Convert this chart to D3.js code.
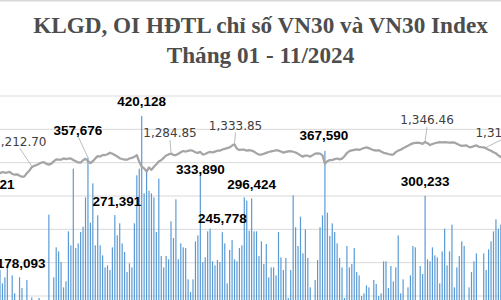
<!DOCTYPE html>
<html>
<head>
<meta charset="utf-8">
<script src="https://cdn.jsdelivr.net/npm/d3@7"></script>
<style>
  html, body { margin: 0; padding: 0; background: #fff; }
  svg { display: block; }
</style>
</head>
<body>
<div id="chart"></div>
<script>
// KLGD (hop dong) theo phien, tu dau thang 01/2024 (doc tu hinh)
var klgd = [
  295621, 150000, 170000, 160000, 189000, 169000, 178000, 193000, 130000, 181000,
  154000, 125000, 178093, 162000, 120000, 174000, 115000, 148000, 110000, 105000,
  147000, 125000, 100000, 118000, 272000, 120000, 178000, 223000, 217000, 201000,
  163000, 172000, 247000, 226000, 341000, 222000, 229000, 246000, 254000, 298000,
  357676, 260000, 319000, 226000, 271000, 226000, 211000, 193000, 196000, 189000,
  223000, 271391, 241000, 259000, 229000, 216000, 186000, 199000, 193000, 259000,
  331000, 341000, 420128, 304000, 340000, 308000, 304000, 298000, 246000, 326000,
  210000, 193000, 210000, 205000, 262000, 237000, 295000, 205000, 229000, 223000,
  222000, 175000, 156000, 175000, 232000, 241000, 333890, 201000, 208000, 247000,
  251000, 202000, 196000, 204000, 201000, 245778, 229000, 169000, 219000, 234000,
  205000, 202000, 222000, 226000, 298000, 293000, 248000, 296424, 247000, 247000,
  210000, 232000, 198000, 228000, 178000, 193000, 193000, 181000, 246000, 208000,
  189000, 207000, 147000, 189000, 301000, 253000, 225000, 269000, 214000, 250000,
  207000, 163000, 130000, 174000, 204000, 253000, 271000, 367590, 275000, 240000,
  259000, 246000, 229000, 207000, 193000, 147000, 225000, 193000, 198000, 222000,
  186000, 181000, 150000, 154000, 166000, 163000, 130000, 174000, 168000, 150000,
  154000, 202000, 202000, 162000, 195000, 172000, 193000, 241000, 154000, 175000,
  130000, 163000, 181000, 225000, 223000, 135000, 195000, 183000, 300233, 205000,
  202000, 223000, 211000, 208000, 169000, 217000, 251000, 196000, 217000, 257000,
  163000, 193000, 210000, 232000, 225000, 130000, 163000, 186000, 202000, 214000,
  130000, 135000, 214000, 189000, 220000, 232000, 247000, 265000, 251000, 257000,
  240000, 220000, 250000
];

// VN30 Index dong cua theo phien
var vn30 = [
  1176.5, 1179, 1176.5, 1184.4, 1180.2, 1187.1, 1184.4, 1184.4, 1187.6, 1176.5,
  1173.8, 1174.9, 1166.9, 1161.6, 1164.3, 1181.2, 1194, 1212.70, 1219.9, 1224.2,
  1230.5, 1237.4, 1239, 1230.5, 1226.3, 1231.6, 1243.8, 1253.8, 1252.8, 1252.2,
  1259.1, 1255.4, 1258.6, 1259.7, 1250.7, 1244.3, 1237.9, 1236.3, 1249.6, 1257,
  1245.4, 1234.8, 1244.3, 1259.1, 1271.3, 1269.2, 1276.6, 1277.2, 1281.4, 1289.3,
  1284.1, 1277.2, 1269.7, 1260.2, 1256, 1252.8, 1252.2, 1258.6, 1261.8, 1267.6,
  1276.1, 1241.7, 1215.2, 1206.1, 1189.2, 1211.4, 1198.7, 1215.2, 1228.4, 1242.7,
  1250.1, 1262.3, 1274.5, 1280.5, 1284.85, 1277.2, 1277.2, 1284.1, 1291.5, 1298.4,
  1295.7, 1299.4, 1302.6, 1299.4, 1291, 1288.8, 1293.6, 1279.8, 1282.5, 1288.8,
  1294.1, 1290.4, 1295.2, 1300, 1300, 1306.3, 1309.5, 1313.7, 1317.4, 1327.5,
  1333.85, 1310.5, 1304.2, 1305.8, 1305.2, 1300.5, 1302.6, 1301, 1295.2, 1286.2,
  1279.3, 1279.3, 1284.1, 1288.8, 1293.1, 1296.2, 1298.9, 1302.6, 1300.5, 1295.7,
  1289.9, 1293.6, 1296.8, 1297.3, 1294.6, 1290.4, 1283.5, 1275, 1268.7, 1274.4,
  1273.4, 1268.7, 1276.6, 1284.1, 1286.2, 1284.6, 1275, 1231.6, 1244.3, 1250.7,
  1250.7, 1255.4, 1258.6, 1254.4, 1258.1, 1270.8, 1287.8, 1297.8, 1301.5, 1304.7,
  1306.8, 1304.2, 1308.9, 1314.3, 1317.4, 1313.7, 1307.9, 1302.6, 1300, 1302.6,
  1295.7, 1288.8, 1286.2, 1282.5, 1279.3, 1279.8, 1292.5, 1300.5, 1305.2, 1313.2,
  1319.5, 1325.9, 1333.8, 1339.1, 1341.8, 1342.3, 1340.7, 1336, 1346.46, 1340,
  1330, 1335.4, 1339.7, 1343, 1345, 1343.9, 1345, 1344.5, 1342.8, 1344,
  1343.4, 1337, 1330.1, 1325.9, 1327, 1328, 1319, 1319.5, 1324.3, 1328.5,
  1320.6, 1319, 1318, 1312.45, 1305.2, 1299.4, 1291.5, 1286.2, 1274.5, 1266.6,
  1270, 1275, 1280
];

// phien co nhan so lieu
var klgdLabelDays = [0, 12, 40, 51, 62, 86, 95, 107, 137, 178];
var vn30LabelDays = [17, 74, 100, 178, 203];

var titleLines = ["KLGD, OI HĐTL chỉ số VN30 và VN30 Index", "Tháng 01 - 11/2024"];
var yTicks = d3.range(0, 450001, 50000);

// vi tri nhan (lech so voi diem), tach rieng khoi du lieu
var klgdLabelOffset = {0: [0, -15], 12: [1.5, -14], 40: [-10, -27.5], 51: [2, -14], 62: [0, -15],
                       86: [0, -4.5], 95: [0, -14], 107: [0, -14], 137: [-1, -16], 178: [0, -15]};
var vn30LabelOffset = {17: [-12, -26], 74: [-1, -20.5], 100: [1, -19], 178: [2, -22], 203: [16, -16]};

var width = 501, height = 300;

var svg = d3.select("#chart").append("svg")
    .attr("width", width)
    .attr("height", height);

// khung bieu do bi cat: truc x vuot ra ngoai khung nhin
var x = d3.scaleLinear()
    .domain([0, klgd.length - 1])
    .range([-9.77, -9.77 + (klgd.length - 1) * 2.443]);

var y = d3.scaleLinear().domain([0, 450000]).range([396, 96]);
var y2 = d3.scaleLinear().domain([0, 1590]).range([396, 96]);

svg.append("line")
    .attr("x1", 0).attr("x2", width)
    .attr("y1", 0.75).attr("y2", 0.75)
    .attr("stroke", "#d9d9d9").attr("stroke-width", 1.5);

svg.selectAll(".grid")
    .data(yTicks)
    .enter().append("line")
    .attr("class", "grid")
    .attr("x1", 0).attr("x2", width)
    .attr("y1", function(d){ return y(d); })
    .attr("y2", function(d){ return y(d); })
    .attr("stroke", "#d9d9d9")
    .attr("stroke-width", 1);

svg.selectAll(".bar")
    .data(klgd)
    .enter().append("rect")
    .attr("class", "bar")
    .attr("x", function(d, i){ return x(i) - 0.6; })
    .attr("width", 1.2)
    .attr("y", function(d){ return y(d); })
    .attr("height", function(d){ return y(0) - y(d); })
    .attr("fill", "#5b9bd5");

var line = d3.line()
    .x(function(d, i){ return x(i); })
    .y(function(d){ return y2(d); });

svg.append("path")
    .datum(vn30)
    .attr("d", line)
    .attr("fill", "none")
    .attr("stroke", "#a5a5a5")
    .attr("stroke-width", 2.25)
    .attr("stroke-linejoin", "round");

// nhan VN30 Index
var fmtIdx = d3.format(",.2f");
vn30LabelDays.forEach(function(i){
    var px = x(i), py = y2(vn30[i]);
    var cx = px + vn30LabelOffset[i][0], cy = py + vn30LabelOffset[i][1];
    svg.append("line")
        .attr("x1", cx).attr("y1", cy + 7)
        .attr("x2", px).attr("y2", py - 1)
        .attr("stroke", "#a6a6a6").attr("stroke-width", 0.75);
    svg.append("text")
        .attr("x", cx).attr("y", cy + 4.4)
        .attr("text-anchor", "middle")
        .attr("font-family", "DejaVu Sans, sans-serif")
        .attr("font-size", "12px")
        .attr("fill", "#404040")
        .text(fmtIdx(vn30[i]));
});

// nhan KLGD
var fmtVol = d3.format(",");
klgdLabelDays.forEach(function(i){
    var px = x(i), py = y(klgd[i]);
    var cx = px + klgdLabelOffset[i][0], cy = py + klgdLabelOffset[i][1];
    if (klgdLabelOffset[i][1] < -20) {
        svg.append("line")
            .attr("x1", cx).attr("y1", cy + 6)
            .attr("x2", px).attr("y2", py)
            .attr("stroke", "#a6a6a6").attr("stroke-width", 0.75);
    }
    svg.append("text")
        .attr("x", cx).attr("y", cy + 4.8)
        .attr("text-anchor", "middle")
        .attr("font-family", "Liberation Sans, Arial, sans-serif")
        .attr("font-weight", "bold")
        .attr("font-size", "13.5px")
        .attr("fill", "#000")
        .text(fmtVol(klgd[i]));
});

svg.selectAll(".title")
    .data(titleLines)
    .enter().append("text")
    .attr("class", "title")
    .attr("x", 260.5)
    .attr("y", function(d, i){ return 33.3 + i * 30; })
    .attr("text-anchor", "middle")
    .attr("font-family", "Liberation Serif, Times New Roman, serif")
    .attr("font-weight", "bold")
    .attr("font-size", "23.2px")
    .attr("fill", "#4d4d4d")
    .text(function(d){ return d; });
</script>
</body>
</html>
